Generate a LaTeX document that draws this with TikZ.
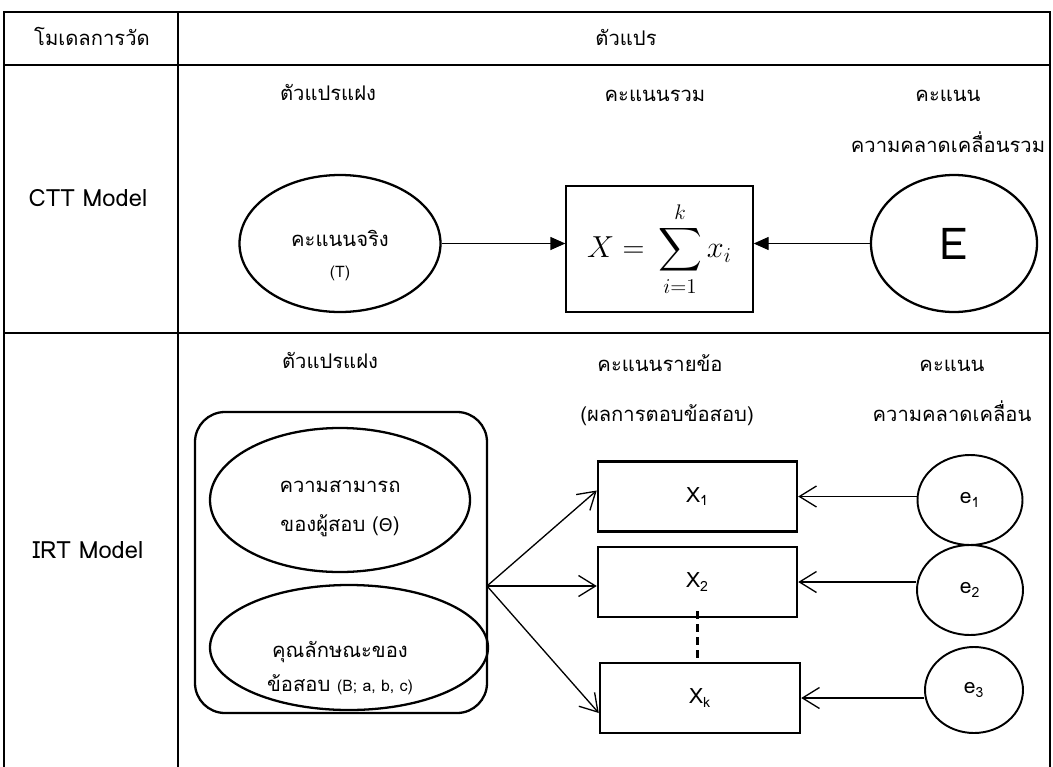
\documentclass[tikz,border=0pt]{standalone}
\usepackage{exscale}
\usepackage{fontspec}
\setmainfont{Loma}[Script=Thai]
\newfontfamily\grkfont{DejaVu Sans}
\usetikzlibrary{shapes.geometric,arrows.meta}

\tikzset{
  tabline/.style={line width=1.5pt},
  oval/.style={draw,ellipse,line width=1.3pt,inner sep=0pt},
  obsbox/.style={draw,rectangle,line width=1.4pt,inner sep=0pt,
    minimum width=39.8mm,minimum height=14mm,font=\fontsize{12}{14}\selectfont},
  lbl/.style={inner sep=0pt,anchor=base,font=\fontsize{11.5}{13}\selectfont},
  latin/.style={lbl,font=\fontsize{13.5}{15}\selectfont},
  small/.style={lbl,font=\fontsize{9}{10}\selectfont},
  fillarr/.style={-{Triangle[length=3mm,width=2.6mm]},line width=0.75pt},
  openarr/.style={-{Straight Barb[length=3.4mm,width=4.2mm]},line width=0.75pt}
}

\begin{document}
\begin{tikzpicture}[x=0.2mm,y=-0.2mm]
\useasboundingbox (0,0) rectangle (1053,767);
% table
\draw[tabline] (4,767) -- (4,12) -- (1050,12) -- (1050,767);
\draw[tabline] (4,65) -- (1050,65) (4,333) -- (1050,333) (178,12) -- (178,767);
\node[lbl] (hmodel) at (92,45) {โมเดลการวัด};
\node[lbl] (hvar) at (626,45) {ตัวแปร};
\node[latin] (cttname) at (88,206) {CTT Model};
\node[latin] (irtname) at (88,558) {IRT Model};

% CTT row
\node[lbl] (clat) at (328,100) {ตัวแปรแฝง};
\node[lbl] (ctot) at (655,101) {คะแนนรวม};
\node[lbl] (cerr) at (948,101) {คะแนน};
\node[lbl] (cerrb) at (948,152) {ความคลาดเคลื่อนรวม};
\node[oval,minimum width=40.2mm,minimum height=27.4mm] (truesc) at (340,243.5) {};
\node[lbl] (truetxt) at (340,246) {คะแนนจริง};
\node[small] (truesym) at (340,277) {(T)};
\node[draw,line width=0.75pt,minimum width=37.4mm,minimum height=25.2mm,
  font=\fontsize{16.5}{18}\selectfont] (sumx) at (659.5,249) {$\displaystyle X=\,\sum_{i=1}^{k}x_i$};
\node[oval,minimum width=33.2mm,minimum height=27.4mm,font=\fontsize{25}{27}\selectfont] (esc) at (954,243.5) {E};
\draw[fillarr] (truesc.east) -- (sumx.west |- truesc.east);
\draw[fillarr] (esc.west) -- (sumx.east |- esc.west);

% IRT row
\node[lbl] (ilat) at (330,368) {ตัวแปรแฝง};
\node[lbl] (iitem) at (660,371) {คะแนนรายข้อ};
\node[lbl] (iitemb) at (667,421) {(ผลการตอบข้อสอบ)};
\node[lbl] (ierr) at (952,371) {คะแนน};
\node[lbl] (ierrb) at (952,421) {ความคลาดเคลื่อน};
\node[draw,line width=1.3pt,rounded corners=6mm,minimum width=58.4mm,minimum height=60.2mm] (latbox) at (341,562.5) {};
\node[oval,minimum width=52mm,minimum height=28.8mm] (abil) at (340,500) {};
\node[lbl] (abiltxt) at (340,492) {ความสามารถ};
\node[lbl] (abiltxtb) at (340,531) {ของผู้สอบ ({\grkfont\fontsize{10}{11}\selectfont Θ})};
\node[oval,minimum width=55.6mm,minimum height=25mm] (ipar) at (349,647.5) {};
\node[lbl] (ipartxt) at (340,657) {คุณลักษณะของ};
\node[lbl] (ipartxtb) at (340,691) {ข้อสอบ {\fontsize{9}{10}\selectfont(B; a, b, c)}};
\coordinate (src) at (487,586);

\node[obsbox] (xa) at (697.5,496.5) {X\textsubscript{1}};
\node[obsbox] (xb) at (697.5,582) {X\textsubscript{2}};
\node[obsbox,minimum width=40mm] (xk) at (700,698) {X\textsubscript{k}};
\node[oval,line width=1.1pt,minimum width=21mm,minimum height=18mm,font=\fontsize{12}{14}\selectfont] (ea) at (970,500) {e\textsubscript{1}};
\node[oval,line width=1.1pt,minimum width=21.2mm,minimum height=18mm,font=\fontsize{12}{14}\selectfont] (eb) at (970,590) {e\textsubscript{2}};
\node[oval,line width=1.1pt,minimum width=19.6mm,minimum height=17.2mm,font=\fontsize{12}{14}\selectfont] (ec) at (974,690) {e\textsubscript{3}};

\draw[openarr] (src) -- ([yshift=1.2mm]xa.west);
\draw[openarr] (src) -- (src -| xb.west);
\draw[openarr] (src) -- ([yshift=-3mm]xk.west);
\draw[openarr] (ea.west |- xa.east) -- (xa.east);
\draw[openarr] (eb.west |- xb.east) -- (xb.east);
\draw[openarr] (ec.west |- xk.east) -- (xk.east);
\draw[line width=1.2pt,dash pattern=on 1.6mm off 1mm] ([yshift=1.4mm]xb.south) -- (xb.south |- xk.north);
\end{tikzpicture}
\end{document}
